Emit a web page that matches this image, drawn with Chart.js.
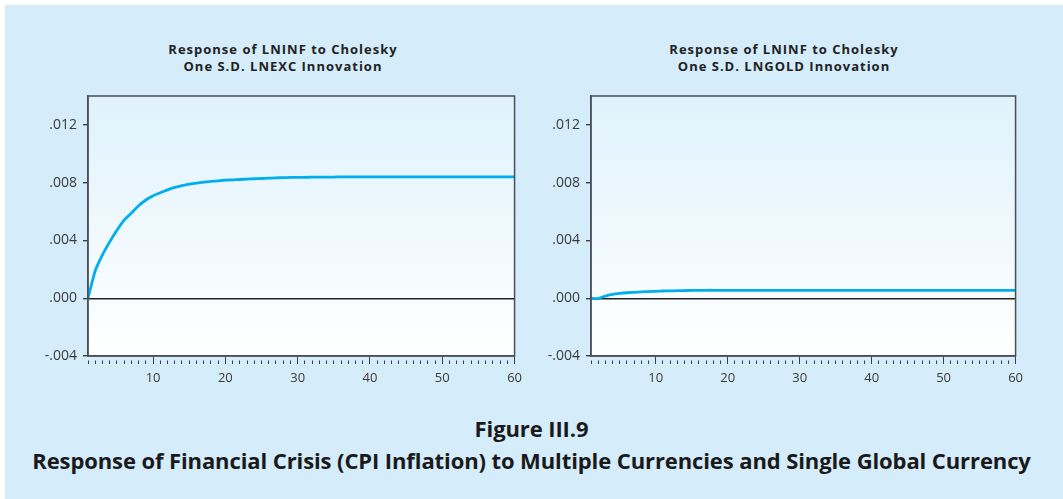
<!DOCTYPE html>
<html>
<head>
<meta charset="utf-8">
<script src="https://cdn.jsdelivr.net/npm/chart.js@4"></script>
<style>
  html, body { margin: 0; padding: 0; background: #fff; }
  body { width: 1063px; height: 499px; position: relative; overflow: hidden; }
  #panel { position: absolute; left: 5px; top: 5px; width: 1058px; height: 494px; background: #d5ecfa; }
  .ptitle { position: absolute; top: 41px; width: 400px; text-align: center; font: bold 13px "Open Sans", sans-serif;
            letter-spacing: 1px; line-height: 17px; color: #222; }
  .box { position: absolute; top: 5px; height: 385px; }
  #caption { position: absolute; left: 0; top: 412px; width: 1063px; text-align: center; color: #1a1a1a;
             font: bold 22px "Open Sans", sans-serif; line-height: 32px; letter-spacing: -0.1px; }
</style>
</head>
<body>
<div id="panel"></div>
<div class="ptitle" style="left:83px">Response of LNINF to Cholesky<br>One S.D. LNEXC Innovation</div>
<div class="ptitle" style="left:584px">Response of LNINF to Cholesky<br>One S.D. LNGOLD Innovation</div>
<div class="box" style="left:5px;width:523px"><canvas id="chart-exc"></canvas></div>
<div class="box" style="left:530px;width:499px"><canvas id="chart-gold"></canvas></div>
<div id="caption">Figure III.9<br>Response of Financial Crisis (CPI Inflation) to Multiple Currencies and Single Global Currency</div>
<script>
// ── Data ──────────────────────────────────────────────────────────────────────
const periods = [1, 2, 3, 4, 5, 6, 7, 8, 9, 10, 11, 12, 13, 14, 15, 16, 17, 18, 19, 20,
  21, 22, 23, 24, 25, 26, 27, 28, 29, 30, 31, 32, 33, 34, 35, 36, 37, 38, 39, 40,
  41, 42, 43, 44, 45, 46, 47, 48, 49, 50, 51, 52, 53, 54, 55, 56, 57, 58, 59, 60];

const respExc = [0, 0.0019, 0.0030, 0.0039, 0.0047, 0.0054, 0.0059, 0.0064, 0.0068, 0.0071,
  0.0073, 0.0075, 0.00767, 0.0078, 0.0079, 0.00797, 0.00804, 0.00809, 0.00813, 0.00817,
  0.0082, 0.00822, 0.00825, 0.00827, 0.00829, 0.00831, 0.00833, 0.00835, 0.00836, 0.00837,
  0.00837, 0.00838, 0.00838, 0.00839, 0.00839, 0.0084, 0.0084, 0.0084, 0.0084, 0.0084,
  0.0084, 0.0084, 0.0084, 0.0084, 0.0084, 0.0084, 0.0084, 0.0084, 0.0084, 0.0084,
  0.0084, 0.0084, 0.0084, 0.0084, 0.0084, 0.0084, 0.0084, 0.0084, 0.0084, 0.0084];

const respGold = [0, -0.00002, 0.00015, 0.00026, 0.00033, 0.00038, 0.00041, 0.00044, 0.00046, 0.00048,
  0.0005, 0.00051, 0.00052, 0.00053, 0.00054, 0.00054, 0.00055, 0.00055, 0.00055, 0.00055,
  0.00055, 0.00055, 0.00055, 0.00055, 0.00055, 0.00055, 0.00055, 0.00055, 0.00055, 0.00055,
  0.00055, 0.00055, 0.00055, 0.00055, 0.00055, 0.00055, 0.00055, 0.00055, 0.00055, 0.00055,
  0.00055, 0.00055, 0.00055, 0.00055, 0.00055, 0.00055, 0.00055, 0.00055, 0.00055, 0.00055,
  0.00055, 0.00055, 0.00055, 0.00055, 0.00055, 0.00055, 0.00055, 0.00055, 0.00055, 0.00055];

const yTicks = [-0.004, 0, 0.004, 0.008, 0.012];
const yMin = -0.004, yMax = 0.014;

// ── Plot background + frame ──────────────────────────────────────────────────
const frame = {
  id: 'frame',
  beforeDraw(chart) {
    const { ctx, chartArea: a } = chart;
    const g = ctx.createLinearGradient(0, a.top, 0, a.bottom);
    g.addColorStop(0, '#dff2fc');
    g.addColorStop(1, '#ffffff');
    ctx.save();
    ctx.fillStyle = g;
    ctx.fillRect(a.left, a.top, a.right - a.left, a.bottom - a.top);
    ctx.restore();
  },
  afterDraw(chart) {
    const { ctx, chartArea: a } = chart;
    ctx.save();
    ctx.strokeStyle = '#4a4f55';
    ctx.lineWidth = 1.5;
    ctx.strokeRect(a.left, a.top, a.right - a.left, a.bottom - a.top);
    ctx.restore();
  },
};

function fmtY(v) {
  const s = Math.abs(v).toFixed(3).replace(/^0/, '');
  return (v < -1e-9 ? '-' : '') + s;
}

function makeChart(id, values, yAxisWidth) {
  return new Chart(document.getElementById(id), {
    type: 'line',
    data: {
      labels: periods,
      datasets: [{
        data: values,
        borderColor: '#00aeef',
        borderWidth: 2.8,
        pointRadius: 0,
        tension: 0.2,
        fill: false,
      }],
    },
    options: {
      responsive: true,
      maintainAspectRatio: false,
      animation: false,
      layout: { padding: { top: 91, right: 12, bottom: 0, left: 0 } },
      plugins: { legend: { display: false }, tooltip: { enabled: false } },
      scales: {
        x: {
          type: 'linear',
          min: 1, max: 60,
          afterBuildTicks: (s) => { s.ticks = periods.map(p => ({ value: p })); },
          afterFit: (s) => { s.height = 34; },
          border: { display: true, color: '#4a4f55', width: 1.5 },
          grid: {
            drawOnChartArea: false,
            tickLength: 8,
            tickWidth: 1,
            tickColor: '#3a3f45',
            tickBorderDash: (c) => (c.tick && c.tick.value % 10 === 0) ? [] : [0, 4, 4],
          },
          ticks: {
            autoSkip: false,
            maxRotation: 0,
            padding: 6,
            color: '#3a3a3a',
            font: { family: 'Open Sans', size: 13 },
            callback: (v) => (v % 10 === 0 ? String(v) : ''),
          },
        },
        y: {
          min: yMin, max: yMax,
          afterBuildTicks: (s) => { s.ticks = yTicks.map(v => ({ value: v })); },
          afterFit: (s) => { s.width = yAxisWidth; },
          border: { display: true, color: '#4a4f55', width: 1.5 },
          grid: {
            tickLength: 5,
            tickColor: '#3a3f45',
            color: (c) => (c.tick && Math.abs(c.tick.value) < 1e-9 ? '#222' : 'rgba(0,0,0,0)'),
            lineWidth: 1.4,
          },
          ticks: {
            padding: 6,
            color: '#3a3a3a',
            font: { family: 'Open Sans', size: 14 },
            callback: (v) => fmtY(v),
          },
        },
      },
    },
    plugins: [frame],
  });
}

makeChart('chart-exc', respExc, 83);
makeChart('chart-gold', respGold, 61);
</script>
</body>
</html>
